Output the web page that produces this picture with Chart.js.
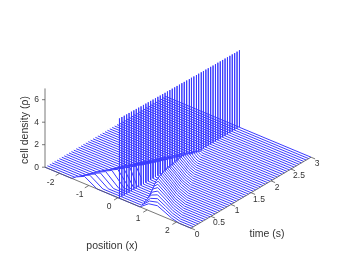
<!DOCTYPE html>
<html><head><meta charset="utf-8">
<style>html,body{margin:0;padding:0;background:#fff}canvas{display:block}</style>
<script src="https://cdn.jsdelivr.net/npm/chart.js@4/dist/chart.umd.min.js"></script>
</head><body><canvas id="c" width="342" height="257"></canvas>
<script>
const xTicks=[-2,-1,0,1,2];
const tTicks=[0,0.5,1,1.5,2,2.5,3];
const rhoTicks=[0,2,4,6];
const times=[0,.06,.12,.18,.24,.3,.36,.42,.48,.54,.6,.66,.72,.78,.84,.9,.96,1.02,1.08,1.14,1.2,1.26,1.32,1.38,1.44,1.5,1.56,1.62,1.68,1.74,1.8,1.86,1.92,1.98,2.04,2.1,2.16,2.22,2.28,2.34,2.4,2.46,2.52,2.58,2.64,2.7,2.76,2.82,2.88,2.94,3];
const spikeX=0.05;
const spikeHeight=[7.1,7.1,7.09,7.08,7.08,7.07,7.06,7.06,7.05,7.04,7.04,7.03,7.02,7.02,7.01,7,7,6.99,6.99,6.98,6.98,6.97,6.97,6.96,6.96,6.95,6.95,6.94,6.94,6.93,6.93,6.92,6.92,6.91,6.91,6.9,6.9,6.89,6.89,6.88,6.88,6.88,6.87,6.87,6.87,6.86,6.86,6.86,6.85,6.85,6.85];
const leftProfile=[
[-1.58,0,-1.43,.3,-1.15,.65,-.72,0,.05,0],[-1.53,0,-1.36,.36,-1.05,.74,-.6,0,.05,0],[-1.48,0,-1.29,.4,-.95,.82,-.5,0,.05,0],[-1.43,0,-1.23,.43,-.85,.9,-.4,0,.05,0],[-1.39,0,-1.17,.47,-.75,1,-.3,0,.05,0],
[-1.34,0,-1.09,.51,-.62,1.12,-.2,0,.05,0],[-1.29,0,-1.01,.56,-.5,1.22,-.12,0,.05,0],[-1.24,0,-.94,.59,-.38,1.31,-.05,0,.05,0],[-1.19,0,-.86,.64,-.25,1.42,0,0,.05,0],[-1.14,0,-.77,.69,-.12,1.53,.05,.7],
[-1.09,0,-.69,.76,.05,1.72],[-1.05,0,-.66,.73,.05,1.64],[-1,0,-.63,.7,.05,1.56],[-.95,0,-.6,.67,.05,1.48],[-.9,0,-.57,.65,.05,1.4],[-.85,0,-.53,.62,.05,1.32],[-.8,0,-.5,.59,.05,1.23],[-.75,0,-.47,.56,.05,1.15],
[-.705,0,-.44,.53,.05,1.08],[-.66,0,-.41,.51,.05,1],[-.61,0,-.38,.48,.05,.92],[-.56,0,-.35,.45,.05,.85],[-.51,0,-.31,.42,.05,.77],[-.46,0,-.28,.39,.05,.69],[-.415,0,-.25,.36,.05,.62],[-.365,0,-.22,.33,.05,.54],
[-.32,0,-.19,.3,.05,.47],[-.27,0,-.16,.27,.05,.39],[-.22,0,-.13,.24,.05,.32],[-.17,0,-.09,.2,.05,.25],[-.12,0,-.06,.16,.05,.18],[-.07,0,-.03,.12,.05,.13],[-.025,0,0,.08,.05,.08],[.02,0,.05,.04],
[.05,0],[.05,0],[.05,0],[.05,0],[.05,0],[.05,0],[.05,0],[.05,0],[.05,0],[.05,0],[.05,0],[.05,0],[.05,0],[.05,0],[.05,0],[.05,0],[.05,0]];
const rightProfile=[
[.75,0,1.05,.6,1.35,.75,1.61,.45,1.84,.17,2.1,0],[.72,0,1,.66,1.27,.85,1.54,.51,1.77,.19,2.04,0],[.7,0,.95,.72,1.19,.95,1.47,.57,1.71,.21,1.98,0],
[.67,0,.89,.82,1.11,1.08,1.39,.65,1.64,.24,1.92,0],[.65,0,.84,.9,1.03,1.2,1.32,.72,1.57,.26,1.86,0],[.62,0,.78,.98,.95,1.3,1.25,.78,1.5,.29,1.8,0],
[.6,0,.73,1.04,.87,1.38,1.17,.83,1.44,.3,1.74,0],[.57,0,.68,1.09,.8,1.45,1.11,.87,1.37,.32,1.68,0],[.55,0,.63,1.12,.72,1.5,1.04,.9,1.3,.33,1.62,0],
[.52,0,.6,1.12,.68,1.5,.99,.9,1.25,.33,1.56,0],[.5,0,.57,1.11,.64,1.48,.94,.89,1.2,.33,1.5,0],[.47,0,.54,1.09,.6,1.45,.89,.87,1.15,.32,1.44,0],
[.44,0,.5,1.05,.56,1.4,.85,.84,1.09,.31,1.38,0],[.42,0,.47,1.02,.52,1.36,.8,.82,1.04,.3,1.32,0],[.39,0,.44,.99,.49,1.32,.76,.79,.99,.29,1.26,0],
[.37,0,.41,.95,.45,1.27,.71,.76,.94,.28,1.2,0],[.34,0,.38,.92,.42,1.22,.67,.73,.89,.27,1.14,0],[.32,0,.35,.86,.38,1.15,.62,.69,.83,.25,1.08,0],
[.29,0,.32,.82,.35,1.1,.58,.66,.79,.24,1.02,0],[.27,0,.3,.8,.32,1.06,.54,.64,.74,.23,.96,0],[.24,0,.26,.77,.29,1.02,.5,.61,.69,.22,.9,0],
[.21,0,.24,.74,.26,.98,.46,.59,.65,.22,.84,0],[.19,0,.21,.7,.23,.93,.42,.56,.59,.2,.78,0],[.16,0,.18,.66,.2,.88,.38,.53,.54,.19,.72,0],
[.14,0,.15,.63,.17,.84,.34,.5,.49,.18,.66,0],[.11,0,.12,.6,.14,.8,.3,.48,.44,.18,.6,0],[.09,0,.11,.54,.13,.72,.27,.43,.4,.16,.54,0],
[.08,0,.1,.48,.12,.64,.25,.38,.36,.14,.48,0],[.08,0,.09,.42,.11,.56,.22,.34,.31,.12,.42,0],[.08,0,.09,.36,.1,.48,.19,.29,.27,.11,.36,0],
[.07,0,.08,.3,.1,.4,.18,.24,.24,.09,.32,0],[.07,0,.08,.22,.09,.3,.16,.18,.21,.07,.28,0],[.07,0,.08,.15,.09,.2,.14,.12,.19,.04,.24,0],
[.07,0,.09,.12,.13,.07,.2,0],[.07,0,.09,.05,.16,0]];

const X0=45,Y0=167.2,DXX=146/5,DXY=61/5,DTX=120/3,DTY=-71/3,DZ=11.25,XMIN=-2.5,XMAX=2.5,TMAX=3,ZMAX=7;
const P=(x,t,r)=>({x:X0+(x-XMIN)*DXX+t*DTX,y:Y0+(x-XMIN)*DXY+t*DTY-r*DZ});
const axisStyle={showLine:true,pointRadius:0,borderColor:'#555',borderWidth:.8,fill:false,clip:false};
const ds=[];
ds.push({...axisStyle,data:[P(XMIN,0,0),P(XMAX,0,0)]});
ds.push({...axisStyle,data:[P(XMAX,0,0),P(XMAX,TMAX,0)]});
ds.push({...axisStyle,data:[P(XMIN,0,0),P(XMIN,0,ZMAX)]});
xTicks.forEach(v=>ds.push({...axisStyle,data:[P(v,0,0),P(v,-.1,0)]}));
tTicks.forEach(v=>ds.push({...axisStyle,data:[P(XMAX,v,0),P(XMAX+.14,v,0)]}));
rhoTicks.forEach(v=>{const a=P(XMIN,0,v);ds.push({...axisStyle,data:[a,{x:a.x-3,y:a.y}]})});
times.forEach((t,k)=>{
  const pts=[P(XMIN,t,0)];
  const add=(arr)=>{for(let i=0;i<arr.length;i+=2)pts.push(P(arr[i],t,arr[i+1]))};
  add(leftProfile[k]);
  pts.push(P(spikeX,t,spikeHeight[k]));
  pts.push(P(spikeX,t,0));
  add(rightProfile[k]||[]);
  pts.push(P(XMAX,t,0));
  ds.push({waterfall:true,showLine:true,pointRadius:0,borderColor:'#3a3aff',borderWidth:1,borderJoinStyle:'bevel',fill:false,clip:false,tension:0,data:pts});
});
const whiteFill={id:'whiteFill',beforeDatasetDraw(chart,args){
  if(!chart.data.datasets[args.index].waterfall)return;
  const c=chart.ctx,pts=args.meta.data;
  c.save();c.beginPath();
  pts.forEach((p,i)=>i?c.lineTo(p.x,p.y):c.moveTo(p.x,p.y));
  c.closePath();c.fillStyle='#fff';c.fill();c.restore();
}};
const labels={id:'labels',afterDraw(chart){
  const c=chart.ctx,sx=chart.scales.x,sy=chart.scales.y;
  const put=(s,p,dx,dy,f,rot)=>{c.save();c.font=f;c.fillStyle='#333';c.textAlign='center';c.textBaseline='middle';
    c.translate(sx.getPixelForValue(p.x)+dx,sy.getPixelForValue(p.y)+dy);if(rot)c.rotate(rot);c.fillText(s,0,0);c.restore();};
  const tf='8.5px "Liberation Sans"',lf='10.5px "Liberation Sans"';
  xTicks.forEach(v=>put(String(v),P(v,0,0),-9,9,tf));
  tTicks.forEach(v=>put(String(v),P(XMAX,v,0),v===.5||v===1.5||v===2.5?8:6,6.5,tf));
  rhoTicks.forEach(v=>put(String(v),P(XMIN,0,v),-8.5,0,tf));
  put('position (x)',{x:112,y:246},0,0,lf);
  put('time (s)',{x:267,y:234},0,0,lf);
  put('cell density (ρ)',{x:25,y:130},0,0,lf,-Math.PI/2);
}};
new Chart(document.getElementById('c'),{type:'scatter',data:{datasets:ds},plugins:[whiteFill,labels],
 options:{responsive:false,animation:false,events:[],layout:{padding:0},
  plugins:{legend:{display:false},tooltip:{enabled:false}},
  scales:{x:{type:'linear',min:0,max:342,display:false},y:{type:'linear',min:0,max:257,reverse:true,display:false}}}});
</script></body></html>
